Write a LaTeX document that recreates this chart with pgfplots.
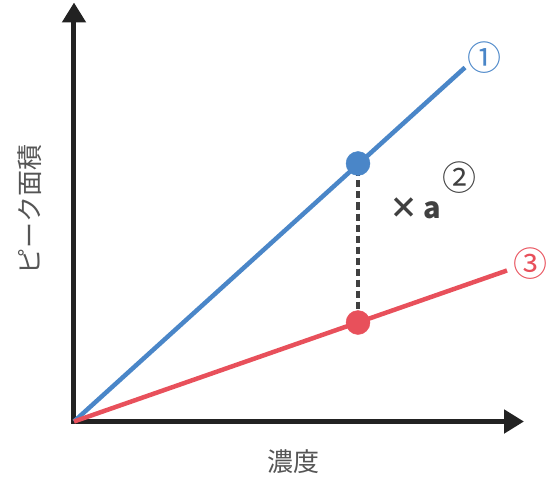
\documentclass[border=0pt]{standalone}
\usepackage{fontspec}
\setmainfont{Noto Sans CJK JP}
\usepackage{pgfplots}
\pgfplotsset{compat=1.18}
\usetikzlibrary{arrows.meta}
\definecolor{lblue}{HTML}{4A86C8}
\definecolor{lred}{HTML}{E8505B}
\definecolor{axblack}{HTML}{222222}
\definecolor{lblgray}{HTML}{555555}
\definecolor{dgray}{HTML}{404040}
\begin{document}
\begin{tikzpicture}
\begin{axis}[
  scale only axis,
  width=450bp, height=419bp,
  xmin=0, xmax=450, ymin=0, ymax=419,
  axis lines=left,
  xtick=\empty, ytick=\empty,
  clip=false,
  axis line style={line width=5bp, color=axblack, line cap=rect},
  every outer x axis line/.append style={-{Triangle[length=20bp,width=23bp]}},
  every outer y axis line/.append style={-{Triangle[length=20bp,width=23bp]}},
  xlabel={濃度}, ylabel={ピーク面積},
  xlabel style={at={(axis description cs:0.487,-0.0955)}, anchor=center, font=\fontsize{26bp}{30bp}\selectfont, text=lblgray},
  ylabel style={at={(axis description cs:-0.0978,0.506)}, anchor=center, rotate=0, font=\fontsize{26bp}{30bp}\selectfont, text=lblgray},
]
\path (axis cs:-74,-60) rectangle (axis cs:480,421);
\addplot[lblue, line width=4.5bp] coordinates {(0,0) (391,354)};
\addplot[lred, line width=4.5bp] coordinates {(0,0) (433,151)};
\addplot[dgray, line width=3.5bp, dash pattern=on 7bp off 4bp] coordinates {(284,252) (284,105)};
\addplot[only marks, mark=*, mark size=12bp, color=lblue] coordinates {(284,258)};
\addplot[only marks, mark=*, mark size=12bp, color=lred] coordinates {(284,99)};
\node[text=lblue, font=\fontsize{34bp}{36bp}\selectfont] at (axis cs:410,364) {①};
\node[text=dgray, font=\fontsize{34bp}{36bp}\selectfont] at (axis cs:385.5,244) {②};
\node[text=lred, font=\fontsize{34bp}{36bp}\selectfont] at (axis cs:456,158) {③};
\node[text=dgray, font=\fontsize{29bp}{32bp}\selectfont\bfseries] at (axis cs:341,213) {×\,a};
\end{axis}
\end{tikzpicture}
\end{document}
